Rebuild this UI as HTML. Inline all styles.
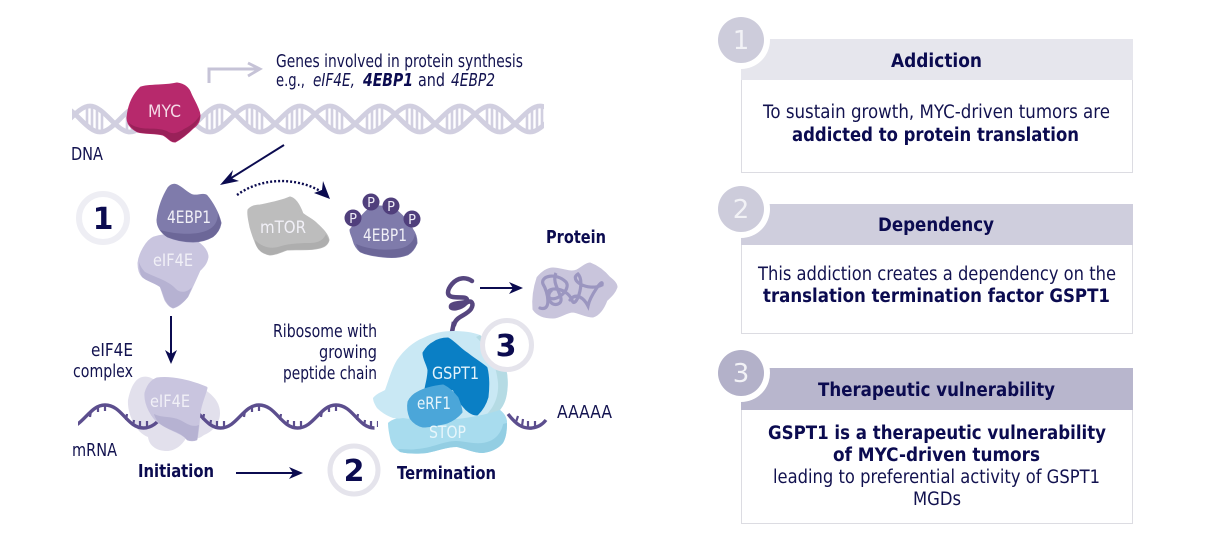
<!DOCTYPE html>
<html><head><meta charset="utf-8"><style>
html,body{margin:0;padding:0;background:#fff;width:1230px;height:559px;overflow:hidden}
svg{display:block}
text{font-family:"DejaVu Sans","Liberation Sans",sans-serif;font-size:17.5px;fill:#12124f}
.b{font-weight:bold;fill:#0b0b50}
.w{fill:#f1f0f7;font-size:17px}
.n{font-weight:bold;font-size:30px;fill:#0b0b50;text-anchor:middle}
.c{fill:#f2f2f6;font-size:26px;text-anchor:middle}
.p{font-size:18.5px}
.r{stroke-width:3;stroke-linejoin:round}
</style></head><body>
<svg width="1230" height="559" viewBox="0 0 1230 559" xmlns="http://www.w3.org/2000/svg">
<defs>
<clipPath id="dc"><rect x="72" y="95" width="472" height="50"/></clipPath>
<clipPath id="mc"><rect x="78" y="395" width="300" height="45"/></clipPath>
<g id="dp" fill="none" stroke="#d1cfe0">
<path stroke-width="4.8" d="M0 -13C14 -13 26 13 40 13S66 -13 80 -13"/>
<path stroke-width="4.8" d="M30 -13C44 -13 56 13 70 13S96 -13 110 -13"/>
<path stroke-width="2.6" d="M27 7V-13M32 11V-13M37 13V-11M42 13V-8M67 -7V13M72 -11V13M77 -13V11M82 -13V8"/>
</g>
<g id="mw" fill="none" stroke="#5c4e8e">
<path stroke-width="3.4" d="M-38.5 23C-22 23 -16 0 0 0C17 0 22 23 38.500 23"/>
<path stroke-width="2.2" d="M-14 6l-1 6M-7 1l0 6M0 0l0 6M21 15l1 -6M28 21l1 -6M35 23l0 -7M42 22l0 -6"/>
</g>
</defs>

<!-- DNA -->
<g clip-path="url(#dc)"><g transform="translate(0 119)">
<use href="#dp" x="-20"/><use href="#dp" x="60"/><use href="#dp" x="140"/><use href="#dp" x="220"/><use href="#dp" x="300"/><use href="#dp" x="380"/><use href="#dp" x="460"/><use href="#dp" x="540"/>
</g></g>

<!-- gene arrow -->
<path d="M209 83V69H259" fill="none" stroke="#c6c3d7" stroke-width="3"/>
<path d="M248 63L260 69L248 76" fill="none" stroke="#c6c3d7" stroke-width="2.8"/>

<!-- MYC -->
<path class="r" stroke="#b7296c" d="M128 118C129 105 134 95 141 88C150 85 165 87 177 84C184 85 188 88 190 94C193 101 198 108 199 115C199 121 196 125 193 127C187 133 181 138 175 141C170 141 168 136 163 134C155 132 145 133 138 131C132 128 128 124 128 118Z" fill="#b7296c"/>
<path d="M137 132C145 134 155 133 163 135C168 137 170 142 175 142C181 139 187 134 193 128C196 125 200 121 200 115C196 122 190 126 184 129C178 133 172 135 167 131C156 127 146 130 137 127C133 126 130 124 128 122C130 126 133 129 137 132Z" fill="#9a2159"/>
<text class="w" x="148" y="117" textLength="33" lengthAdjust="spacingAndGlyphs" style="fill:#f4dbe7">MYC</text>

<!-- arrows 1 -->
<path d="M284 145L228 180" stroke="#0b0b50" stroke-width="2" fill="none"/>
<path d="M220 185L233 170L231 178L239 181Z" fill="#0b0b50"/>
<path d="M237 195C260 178 295 176 322 192" stroke="#0b0b50" stroke-width="2.4" stroke-dasharray="2 2" fill="none"/>
<path d="M330 199L314 193L322 190L323 181Z" fill="#0b0b50"/>

<!-- eIF4E -->
<path class="r" stroke="#c9c5df" d="M139 263C140 254 147 241 154 238C160 236 168 235 173 236C183 238 194 240 199 244C204 248 207 252 207 257C206 263 203 266 199 270C195 279 191 288 187 296C183 301 178 306 173 307C170 306 168 303 166 300C164 295 163 291 161 286C156 282 147 280 143 276C140 273 139 268 139 263Z" fill="#c9c5df"/>
<path d="M142 277C146 281 155 283 160 287C162 291 163 295 165 300C167 303 169 307 173 308C178 307 184 302 188 297C189 294 191 290 192 287C187 293 180 293 176 289C168 280 154 277 145 272C143 270 140 266 139 262C139 268 140 273 142 277Z" fill="#b6b2d2"/>
<!-- 4EBP1 -->
<path class="r" stroke="#7f7bab" d="M158 220C159 208 164 196 169 188C172 185 175 185 177 186C183 189 188 195 193 196C198 197 203 194 206 196C212 203 218 214 220 223C219 229 216 233 212 236C207 239 200 241 193 241C183 241 175 239 168 236C162 232 158 227 158 220Z" fill="#7f7bab"/>
<path d="M167 237C175 240 183 242 193 242C200 242 207 240 213 237C217 234 220 229 221 223C220 219 219 216 218 213C218 222 214 227 208 230C198 235 178 235 160 230C162 233 164 235 167 237Z" fill="#6c6798"/>
<text class="w" x="167" y="223" textLength="44" lengthAdjust="spacingAndGlyphs">4EBP1</text>
<text class="w" x="153" y="266" textLength="40" lengthAdjust="spacingAndGlyphs">eIF4E</text>

<!-- mTOR -->
<path class="r" stroke="#bdbdbd" d="M249 210C252 207 256 206 260 206C270 204 281 202 290 198C295 199 299 206 302 214C307 218 312 220 316 224C321 229 327 234 328 240C327 244 324 246 320 247C309 250 298 248 287 249C281 251 275 254 270 254C264 253 260 250 258 246C255 240 253 234 251 227C250 221 248 215 249 210Z" fill="#bdbdbd"/>
<path d="M257 247C259 251 264 254 270 255C275 255 281 252 287 250C298 249 309 251 320 248C324 247 328 245 329 240C328 238 327 236 326 234C323 241 317 243 309 243C298 243 286 244 278 247C270 249 262 247 255 240C255 243 256 245 257 247Z" fill="#aeaeae"/>
<text class="w" x="260" y="233" textLength="46" lengthAdjust="spacingAndGlyphs">mTOR</text>

<!-- phospho 4EBP1 -->
<path class="r" stroke="#7f7bab" d="M351 230C357 222 364 214 371 208C379 206 389 207 396 211C403 217 409 223 412 230C415 234 416 239 416 243C414 248 411 252 407 254C399 257 391 257 383 256C375 255 367 254 361 251C357 248 355 244 354 240C353 236 351 233 351 230Z" fill="#7f7bab"/>
<path d="M360 252C367 255 375 256 383 257C391 258 399 258 407 255C411 253 415 249 417 243C417 240 416 237 415 234C414 241 409 246 402 248C389 251 370 250 356 244C357 247 358 250 360 252Z" fill="#6c6798"/>
<g fill="#503f7c"><circle cx="353" cy="218" r="8.5"/><circle cx="371" cy="202" r="8.5"/><circle cx="391" cy="206" r="8.5"/><circle cx="412" cy="219" r="8.5"/></g>
<g text-anchor="middle"><text x="353" y="223" style="fill:#eeecf6;font-size:13px">P</text><text x="371" y="207" style="fill:#eeecf6;font-size:13px">P</text><text x="391" y="211" style="fill:#eeecf6;font-size:13px">P</text><text x="412" y="224" style="fill:#eeecf6;font-size:13px">P</text></g>
<text class="w" x="363" y="241" textLength="44" lengthAdjust="spacingAndGlyphs">4EBP1</text>

<!-- circled numbers -->
<circle cx="103" cy="218" r="24" fill="#fff" stroke="#eeeef4" stroke-width="6"/>
<text class="n" x="103" y="229">1</text>
<circle cx="354" cy="470" r="24" fill="#fff" stroke="#e5e4ec" stroke-width="5"/>
<text class="n" x="354" y="481">2</text>

<!-- down arrow -->
<path d="M171 316V358" stroke="#0b0b50" stroke-width="2"/>
<path d="M171 364L165 350L171 354L177 350Z" fill="#0b0b50"/>

<!-- initiation back blob -->
<path d="M128 400C130 390 134 379 142 377C150 375 156 381 163 386C180 382 198 384 208 392C216 398 220 405 220 413C220 424 212 432 204 435C198 440 190 440 186 438C182 446 174 451 167 451C157 451 149 446 148 437C136 433 127 414 128 400Z" fill="#e2e0ec"/>

<!-- mRNA -->
<g clip-path="url(#mc)"><g transform="translate(0 405)"><use href="#mw" x="105"/><use href="#mw" x="182"/><use href="#mw" x="259"/><use href="#mw" x="336"/></g></g>
<path d="M508 414C516 424 522 429 532 428C538 427 542 425 546 420" fill="none" stroke="#5c4e8e" stroke-width="3.4"/>
<path d="M516 422l2 -6M522 426l1 -7M528 428l0 -7M535 427l0 -6" stroke="#5c4e8e" stroke-width="2.2" fill="none"/>

<!-- initiation front -->
<path class="r" stroke="#c9c5df" d="M146 393C148 386 152 381 157 379C172 377 192 382 206 388C204 396 200 404 199 413C198 421 198 430 196 439C194 440 190 440 188 439C181 431 170 430 161 423C153 419 145 404 146 393Z" fill="#c9c5df"/>
<path d="M160 424C170 431 181 432 187 440C190 441 194 441 197 440C198 435 198 430 199 425C192 428 186 423 180 420C172 416 162 418 154 414C155 418 157 421 160 424Z" fill="#b6b2d2"/>
<text class="w" x="150" y="407" textLength="40" lengthAdjust="spacingAndGlyphs">eIF4E</text>

<!-- peptide -->
<path d="M472 281C466 277 458 277 452 284C447 290 446 296 453 297C459 298 467 296 467 300C467 304 453 302 451 306C450 310 460 309 466 303C472 299 474 304 471 309C466 316 456 316 454 325" fill="none" stroke="#56467f" stroke-width="4.5" stroke-linecap="round"/>
<path d="M454 322L452 332" fill="none" stroke="#56467f" stroke-width="4.5"/>
<path d="M480 288H515" stroke="#0b0b50" stroke-width="2"/>
<path d="M523 288L509 282L513 288L509 294Z" fill="#0b0b50"/>

<!-- protein -->
<path class="r" stroke="#c9c5dc" d="M534 309C533 298 535 287 538 278C543 272 548 269 553 269C561 269 570 274 577 271C583 268 586 264 590 264C598 267 604 272 609 278C613 281 616 284 616 287C614 293 610 296 606 300C603 308 599 314 593 316C586 316 580 312 573 311C566 311 560 317 553 317C545 317 538 315 534 309Z" fill="#c9c5dc"/>
<path d="M540 308C552 312 548 292 543 284C540 276 556 272 566 282C572 290 553 305 548 296C544 286 566 286 572 300C575 311 586 282 578 274C568 280 588 292 602 285C604 276 590 296 588 306C584 298 576 292 570 300" fill="none" stroke="#9b96c0" stroke-width="3.2" stroke-linecap="round"/>
<path d="M556 273C550 285 568 300 558 304C550 307 545 295 552 290" fill="none" stroke="#9b96c0" stroke-width="3.2"/>

<!-- ribosome -->
<path d="M388 423C392 419 398 418 403 417L500 410C505 414 507 418 507 423C507 431 506 438 503 443C498 449 491 452 483 453C474 453 466 449 457 447C447 447 437 451 427 453C418 454 408 454 400 452C394 448 391 444 390 438C389 433 388 428 388 423Z" fill="#a8dcee"/>
<path d="M400 452C408 454 418 454 427 453C437 451 447 447 457 447C466 449 474 453 483 453C491 452 498 449 503 443C506 438 507 431 507 423C506 420 505 418 504 416C504 428 499 437 490 441C478 446 466 441 456 441C444 441 432 448 417 449C411 450 405 449 398 449Z" fill="#93cee3"/>
<path d="M373 398C377 393 382 392 385 390C389 379 392 368 397 360C404 350 413 342 423 338C433 333 443 331 453 331C463 331 472 332 480 335C490 345 502 360 507 373C508 380 508 386 507 393C506 400 504 405 500 410C488 416 474 419 460 420C438 421 415 421 393 418C387 416 381 412 377 408C375 405 373 401 373 398Z" fill="#c9e8f4"/>
<path d="M480 335C490 345 502 360 507 373C508 380 508 386 507 393C506 400 504 405 500 410C495 413 490 415 485 416C494 408 499 396 498 383C497 368 490 350 476 337Z" fill="#b5dbe4"/>
<path d="M388 423C392 420 396 419 403 418C430 423 470 420 500 410C505 414 507 418 507 423C500 425 470 430 440 430C420 430 400 428 388 423Z" fill="#a8dcee"/>
<path class="r" stroke="#0a7fc5" d="M424 353C427 348 430 345 434 343C438 340 443 339 448 339C455 343 460 350 467 354C473 359 480 363 486 368C488 376 488 388 487 397C485 404 481 410 477 414C472 414 467 410 464 406C460 402 457 396 454 389C444 387 434 389 426 389C427 383 429 377 429 370C428 364 424 359 424 353Z" fill="#0a7fc5"/>
<path class="r" stroke="#4ba6d9" d="M409 402C411 398 414 395 418 393C425 389 434 387 443 386C449 389 453 393 457 398C459 403 461 408 461 412C457 417 452 420 447 422C439 424 431 426 423 426C418 425 414 422 411 418C409 413 408 407 409 402Z" fill="#4ba6d9"/>
<text class="w" x="432" y="379" textLength="47" lengthAdjust="spacingAndGlyphs" style="fill:#e3f3fb">GSPT1</text>
<text class="w" x="417" y="409" textLength="34" lengthAdjust="spacingAndGlyphs" style="fill:#e8f5fb">eRF1</text>
<text class="w" x="429" y="438" textLength="37" lengthAdjust="spacingAndGlyphs" style="fill:#e8f6fb">STOP</text>
<circle cx="507" cy="345" r="24.5" fill="#fff" stroke="#e5e4ec" stroke-width="5"/>
<text class="n" x="506" y="356">3</text>

<!-- initiation arrow -->
<path d="M236 473H295" stroke="#0b0b50" stroke-width="2"/>
<path d="M303 473L289 467L293 473L289 479Z" fill="#0b0b50"/>

<!-- left labels -->
<text x="276" y="67" textLength="247" lengthAdjust="spacingAndGlyphs">Genes involved in protein synthesis</text>
<text x="276" y="86" textLength="29" lengthAdjust="spacingAndGlyphs">e.g.,</text>
<text x="313" y="86" textLength="42" lengthAdjust="spacingAndGlyphs" font-style="italic">eIF4E,</text>
<text x="363" y="86" textLength="50" lengthAdjust="spacingAndGlyphs" font-style="italic" class="b">4EBP1</text>
<text x="418" y="86" textLength="27" lengthAdjust="spacingAndGlyphs">and</text>
<text x="451" y="86" textLength="44" lengthAdjust="spacingAndGlyphs" font-style="italic">4EBP2</text>
<text x="71" y="160" textLength="32" lengthAdjust="spacingAndGlyphs">DNA</text>
<text x="546" y="243" textLength="60" lengthAdjust="spacingAndGlyphs" class="b">Protein</text>
<text x="273" y="337" textLength="104" lengthAdjust="spacingAndGlyphs">Ribosome with</text>
<text x="319" y="358" textLength="58" lengthAdjust="spacingAndGlyphs">growing</text>
<text x="283" y="379" textLength="94" lengthAdjust="spacingAndGlyphs">peptide chain</text>
<text x="91" y="356" textLength="42" lengthAdjust="spacingAndGlyphs">eIF4E</text>
<text x="73" y="377" textLength="60" lengthAdjust="spacingAndGlyphs">complex</text>
<text x="72" y="456" textLength="45" lengthAdjust="spacingAndGlyphs">mRNA</text>
<text x="138" y="477" textLength="76" lengthAdjust="spacingAndGlyphs" class="b">Initiation</text>
<text x="397" y="479" textLength="99" lengthAdjust="spacingAndGlyphs" class="b">Termination</text>
<text x="557" y="418" textLength="55" lengthAdjust="spacingAndGlyphs">AAAAA</text>

<!-- panels -->
<rect x="741.500" y="39.500" width="391" height="133" fill="#fff" stroke="#dcdce2"/>
<rect x="741" y="39" width="392" height="41" fill="#e6e6ed"/>
<circle cx="741" cy="40" r="29" fill="#fff"/>
<circle cx="741" cy="40" r="23" fill="#cdccdb"/>
<text class="c" x="741" y="49">1</text>
<text x="891" y="67" textLength="91" lengthAdjust="spacingAndGlyphs" class="b p">Addiction</text>
<text x="763" y="118" textLength="347" lengthAdjust="spacingAndGlyphs" class="p">To sustain growth, MYC-driven tumors are</text>
<text x="792" y="141" textLength="287" lengthAdjust="spacingAndGlyphs" class="b p">addicted to protein translation</text>

<rect x="741.500" y="204.500" width="391" height="129" fill="#fff" stroke="#dcdce2"/>
<rect x="741" y="204" width="392" height="41" fill="#cfcedd"/>
<circle cx="741" cy="209" r="29" fill="#fff"/>
<circle cx="741" cy="209" r="23" fill="#cdccdb"/>
<text class="c" x="741" y="218">2</text>
<text x="878" y="231" textLength="116" lengthAdjust="spacingAndGlyphs" class="b p">Dependency</text>
<text x="758" y="280" textLength="358" lengthAdjust="spacingAndGlyphs" class="p">This addiction creates a dependency on the</text>
<text x="763" y="302" textLength="347" lengthAdjust="spacingAndGlyphs" class="b p">translation termination factor GSPT1</text>

<rect x="741.500" y="368.500" width="391" height="155" fill="#fff" stroke="#dcdce2"/>
<rect x="741" y="368" width="392" height="42" fill="#b8b6cd"/>
<circle cx="741" cy="373" r="29" fill="#fff"/>
<circle cx="741" cy="373" r="23" fill="#b3b1c9"/>
<text class="c" x="741" y="382">3</text>
<text x="818" y="396" textLength="237" lengthAdjust="spacingAndGlyphs" class="b p">Therapeutic vulnerability</text>
<text x="768" y="439" textLength="338" lengthAdjust="spacingAndGlyphs" class="b p">GSPT1 is a therapeutic vulnerability</text>
<text x="833" y="461" textLength="207" lengthAdjust="spacingAndGlyphs" class="b p">of MYC-driven tumors</text>
<text x="773" y="483" textLength="327" lengthAdjust="spacingAndGlyphs" class="p">leading to preferential activity of GSPT1</text>
<text x="913" y="505" textLength="48" lengthAdjust="spacingAndGlyphs" class="p">MGDs</text>
</svg>
</body></html>
